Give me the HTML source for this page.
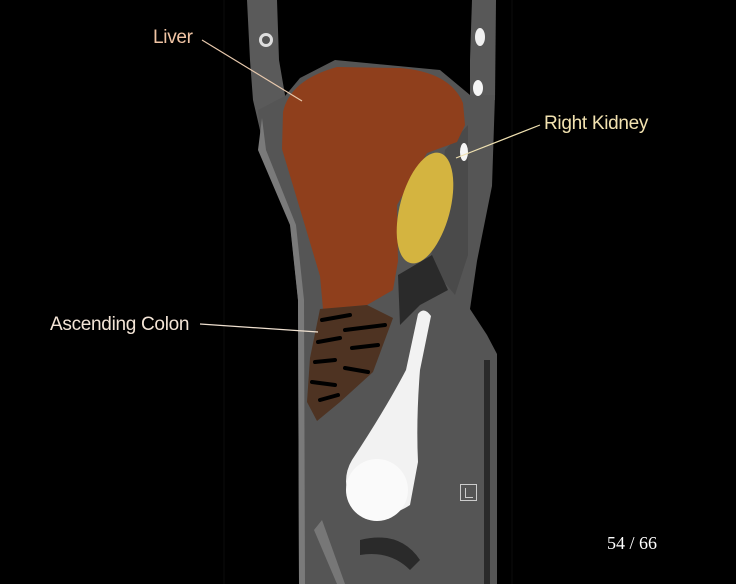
<!DOCTYPE html>
<html><head><meta charset="utf-8"><style>
html,body{margin:0;padding:0;background:#000;width:736px;height:584px;overflow:hidden}
.l{position:absolute;font-family:"Liberation Sans",sans-serif;font-size:19px;letter-spacing:-0.3px}
</style></head><body>
<svg width="736" height="584" style="position:absolute;left:0;top:0">
<rect width="736" height="584" fill="#000"/>
<line x1="224" y1="0" x2="224" y2="584" stroke="#0b0b0b"/>
<line x1="512" y1="0" x2="512" y2="584" stroke="#0b0b0b"/>
<!-- arm strips -->
<path d="M247 0 L277 0 L279 60 L285 95 L283 120 L260 130 L253 100 L250 60 Z" fill="#5a5a5a"/>
<path d="M472 0 L496 0 L495 100 L470 100 L470 60 Z" fill="#585858"/>
<!-- body -->
<path d="M258 110 L285 96 L300 78 L335 60 L440 70 L470 95 L495 95 L492 186 L477 261 L470 309 L487 335 L497 354 L497 584 L299 584 L298 300 L290 223 L262 150 Z" fill="#555"/>
<path d="M262 118 L258 150 L290 225 L298 300 L299 584 L305 584 L304 300 L296 225 L266 150 Z" fill="#7a7a7a"/>
<path d="M484 360 L490 360 L490 584 L484 584 Z" fill="#2a2a2a"/>
<path d="M445 150 L468 125 L468 255 L455 295 L430 265 Z" fill="#4a4a4a"/>
<path d="M398 275 L432 255 L448 290 L420 305 L400 325 Z" fill="#2a2a2a"/>
<!-- liver -->
<path d="M283 112 Q290 80 337 67 L400 68 Q450 72 463 103 L465 125 L457 142 L427 153 L397 205 L398 261 L393 290 L367 305 L323 309 L320 276 L300 209 L282 149 Z" fill="#8f3f1c"/>
<!-- kidney -->
<ellipse cx="425" cy="208" rx="25" ry="57" transform="rotate(15 425 208)" fill="#d4b440"/>
<ellipse cx="464" cy="152" rx="4" ry="9" fill="#f5f5f5"/>
<ellipse cx="478" cy="88" rx="5" ry="8" fill="#f5f5f5"/>
<ellipse cx="480" cy="37" rx="5" ry="9" fill="#f0f0f0"/>
<circle cx="266" cy="40" r="7" fill="#ddd"/><circle cx="266" cy="40" r="4" fill="#555"/>
<!-- colon -->
<path d="M320 309 L367 305 L393 318 L373 372 L340 402 L317 421 L307 402 L310 358 Z" fill="#4e3322"/>
<g stroke="#000" stroke-width="4" stroke-linecap="round">
<line x1="322" y1="320" x2="350" y2="315"/><line x1="345" y1="330" x2="385" y2="325"/>
<line x1="318" y1="342" x2="340" y2="338"/><line x1="352" y1="348" x2="378" y2="345"/>
<line x1="315" y1="362" x2="335" y2="360"/><line x1="345" y1="368" x2="368" y2="372"/>
<line x1="312" y1="382" x2="335" y2="385"/><line x1="320" y1="400" x2="338" y2="395"/>
</g>
<!-- bladder -->
<path d="M418 314 Q424 306 431 316 L420 370 Q416 420 418 462 L410 505 Q380 525 352 505 Q340 480 352 460 Q385 410 406 370 Z" fill="#f2f2f2"/>
<circle cx="377" cy="490" r="31" fill="#fafafa"/>
<path d="M322 520 L345 584 L337 584 L314 530 Z" fill="#777"/>
<path d="M360 540 Q400 530 420 560 L410 570 Q390 550 360 555 Z" fill="#2a2a2a"/>
<!-- L icon -->
<rect x="460.5" y="484.5" width="16" height="16" fill="none" stroke="#ccc"/>
<path d="M465.5 488 V497.5 H473" fill="none" stroke="#ccc"/>
<!-- leader lines -->
<line x1="202" y1="40" x2="302" y2="101" stroke="#e8c9ad" stroke-width="1.2"/>
<line x1="540" y1="125" x2="456" y2="158" stroke="#efe0b0" stroke-width="1.2"/>
<line x1="200" y1="324" x2="318" y2="332" stroke="#efe0d0" stroke-width="1.2"/>
</svg>
<div class="l" style="left:153px;top:27px;color:#f0c4a4">Liver</div>
<div class="l" style="left:544px;top:113px;color:#f2e2b0">Right Kidney</div>
<div class="l" style="left:50px;top:314px;color:#f3e4d6">Ascending Colon</div>
<div style="position:absolute;left:607px;top:533px;color:#fff;font-family:'Liberation Serif',serif;font-size:18px">54 / 66</div>
</body></html>
